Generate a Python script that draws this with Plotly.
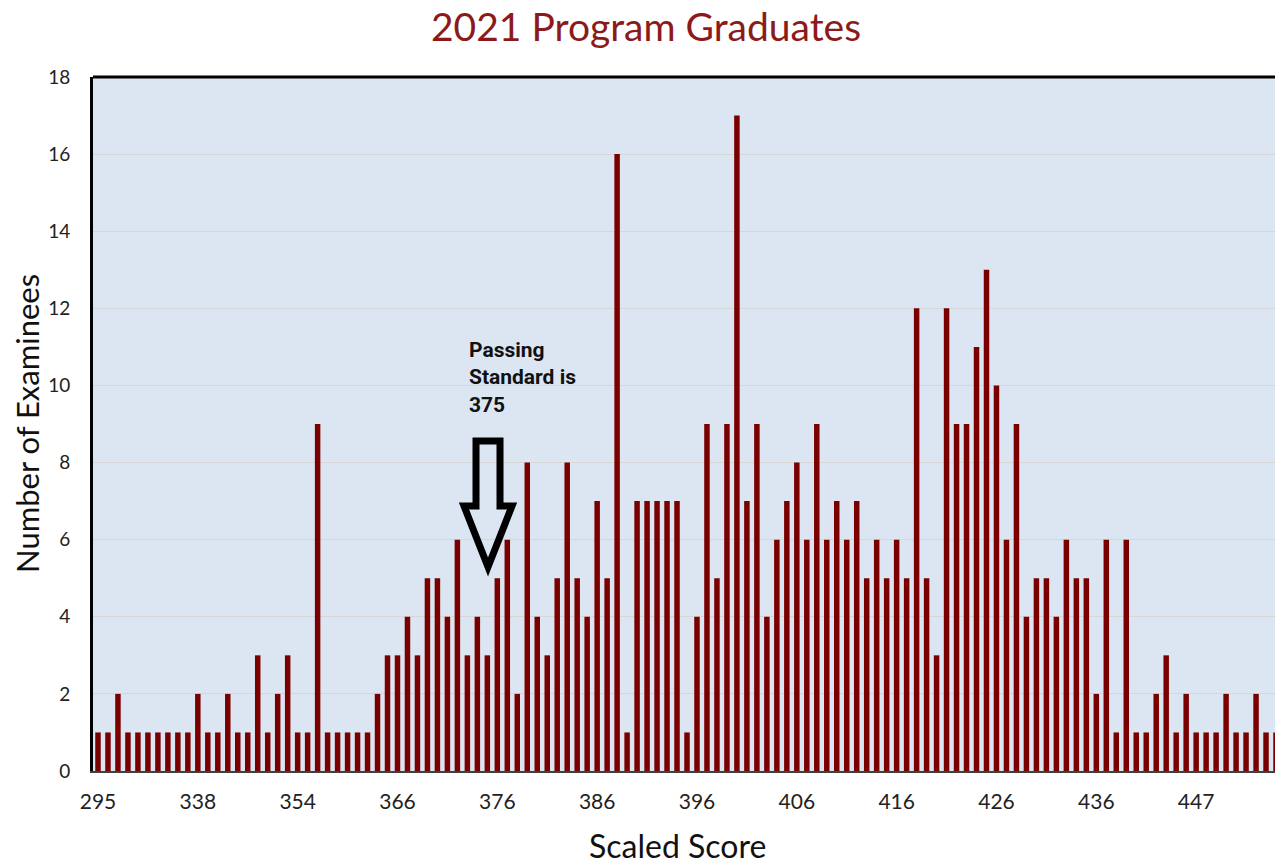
import plotly.graph_objects as go

# Scaled score categories (only every 10th is labelled on the axis)
scores = [
    "295", "300", "306", "311", "317", "321", "325", "328", "331", "335",
    "338", "340", "342", "344", "345", "347", "348", "349", "351", "352",
    "354", "355", "356", "357", "358", "359", "360", "362", "363", "364",
    "366", "367", "368", "369", "370", "371", "372", "373", "374", "375",
    "376", "377", "378", "379", "380", "381", "382", "383", "384", "385",
    "386", "387", "388", "389", "390", "391", "392", "393", "394", "395",
    "396", "397", "398", "399", "400", "401", "402", "403", "404", "405",
    "406", "407", "408", "409", "410", "411", "412", "413", "414", "415",
    "416", "417", "418", "419", "420", "421", "422", "423", "424", "425",
    "426", "427", "428", "429", "430", "431", "432", "433", "434", "435",
    "436", "437", "438", "439", "440", "441", "442", "444", "445", "446",
    "447", "448", "449", "450", "451", "452", "453", "454", "455",
]

examinees = [
    1, 1, 2, 1, 1, 1, 1, 1, 1, 1,
    2, 1, 1, 2, 1, 1, 3, 1, 2, 3,
    1, 1, 9, 1, 1, 1, 1, 1, 2, 3,
    3, 4, 3, 5, 5, 4, 6, 3, 4, 3,
    5, 6, 2, 8, 4, 3, 5, 8, 5, 4,
    7, 5, 16, 1, 7, 7, 7, 7, 7, 1,
    4, 9, 5, 9, 17, 7, 9, 4, 6, 7,
    8, 6, 9, 6, 7, 6, 7, 5, 6, 5,
    6, 5, 12, 5, 3, 12, 9, 9, 11, 13,
    10, 6, 9, 4, 5, 5, 4, 6, 5, 5,
    2, 6, 1, 6, 1, 1, 2, 3, 1, 2,
    1, 1, 1, 2, 1, 1, 2, 1, 1,
]

tick_labels = ["295", "338", "354", "366", "376", "386", "396", "406",
               "416", "426", "436", "447"]

y_ticks = [0, 2, 4, 6, 8, 10, 12, 14, 16, 18]

title_text = "2021 Program Graduates"
x_title = "Scaled Score"
y_title = "Number of Examinees"
note_text = "<b>Passing<br>Standard is<br>375</b>"

FONT = "Lato"

fig = go.Figure()
fig.add_trace(go.Bar(
    x=scores,
    y=examinees,
    marker=dict(color="#7A0000", line=dict(width=0)),
    hoverinfo="x+y",
))

# hollow down arrow (paper coordinates)
arrow_path = ("M0.3224,0.4755 L0.3426,0.4755 L0.3426,0.3818 L0.3527,0.3818 "
              "L0.3325,0.2940 L0.3123,0.3818 L0.3224,0.3818 Z")

# page body has an 8px margin, so the figure is sized/offset to compensate
fig.update_layout(
    width=1275,
    height=855,
    margin=dict(l=85, r=2, t=69, b=92, autoexpand=False),
    paper_bgcolor="white",
    plot_bgcolor="#DCE6F2",
    bargap=0.45,
    showlegend=False,
    title=dict(
        text=title_text,
        x=0.5004, xref="container", xanchor="center",
        y=0.977, yref="container", yanchor="middle",
        font=dict(family=FONT, size=39, color="#8B1A1A"),
    ),
    xaxis=dict(
        type="category",
        categoryorder="array",
        categoryarray=scores,
        tickmode="array",
        tickvals=tick_labels,
        ticktext=tick_labels,
        tickangle=0,
        ticks="",
        ticklabelstandoff=11,
        tickfont=dict(family=FONT, size=21, color="#222222"),
        showgrid=False,
        showline=True,
        linecolor="#404040",
        linewidth=2,
        automargin=False,
        range=[-0.5, len(scores) - 0.5],
    ),
    yaxis=dict(
        range=[0, 18],
        tickmode="array",
        tickvals=y_ticks,
        ticks="",
        ticklabelstandoff=16,
        tickfont=dict(family=FONT, size=19, color="#222222"),
        showgrid=True,
        gridcolor="#D6D6D6",
        gridwidth=1,
        zeroline=False,
        showline=True,
        linecolor="black",
        linewidth=3,
        mirror=True,
        automargin=False,
    ),
    shapes=[
        dict(type="line", xref="paper", yref="paper", x0=0, x1=1, y0=1, y1=1,
             line=dict(color="black", width=3), layer="above"),
        dict(type="path", xref="paper", yref="paper", path=arrow_path,
             line=dict(color="black", width=7), fillcolor="rgba(0,0,0,0)",
             layer="above"),
    ],
    annotations=[
        dict(text=note_text, xref="paper", yref="paper",
             x=0.3148, y=0.627, xanchor="left", yanchor="top",
             align="left", showarrow=False,
             font=dict(family="Roboto", size=21, color="#111111")),
        dict(text=x_title, xref="paper", yref="paper",
             x=0.4916, y=-0.107, xanchor="center", yanchor="middle",
             showarrow=False,
             font=dict(family=FONT, size=32, color="#111111")),
        dict(text=y_title, xref="paper", yref="paper",
             x=-0.0556, y=0.5014, xanchor="center", yanchor="middle",
             textangle=-90, showarrow=False,
             font=dict(family=FONT, size=31, color="#111111")),
    ],
)

fig.write_html("out.html")
